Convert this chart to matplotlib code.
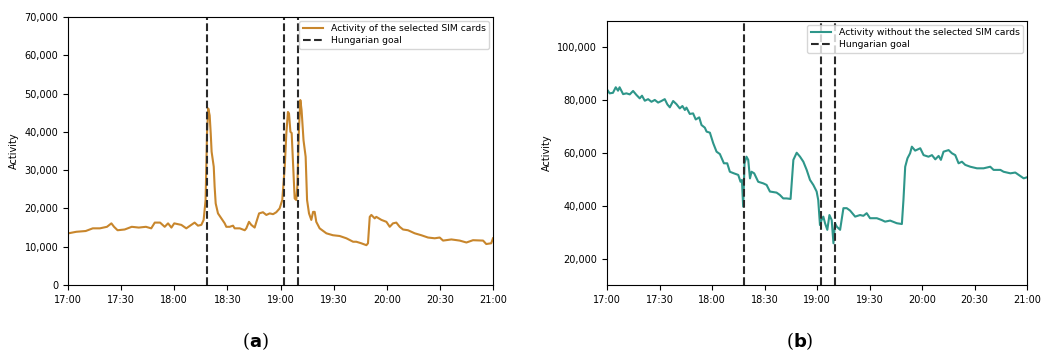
import matplotlib
matplotlib.use("Agg")
import matplotlib.pyplot as plt
import matplotlib.ticker as mticker
import numpy as np
import pandas as pd

# Minutes after 17:00 and activity of the selected SIM cards
sel_minutes = [0, 4.7, 10, 14, 18, 22, 24.5, 26, 28, 32, 36, 40, 44, 47, 49, 52, 54.6, 56.5,
               58.4, 60, 64, 66.8, 69.6, 71.5, 73.4, 75.3, 76.6, 77.7, 78.5, 79.2, 80, 80.6,
               81.1, 82.3, 82.8, 83.4, 84.7, 86.6, 88.5, 89.4, 91.3, 93.2, 94.1, 97, 99.8,
               100.7, 102.2, 103.5, 105.4, 106.4, 107.9, 110.1, 112, 113.9, 115.8, 117.6,
               119.5, 121, 122.4, 123.3, 124.2, 124.8, 125.6, 126.3, 127, 128, 128.9, 129.5,
               130.4, 131.2, 131.9, 133, 134.2, 135, 136.1, 137.4, 138.4, 139.3, 140.2, 142.1,
               145.9, 149.6, 153.4, 157.2, 161, 162.8, 165.6, 168.5, 169.4, 170.4, 171.3,
               173.2, 174.1, 177, 179.8, 181.7, 183.5, 185.4, 187.3, 189.2, 192, 195.8, 199.5,
               203.3, 207.1, 209.9, 211.8, 216.5, 221.2, 225, 228.7, 234.4, 236.2, 239, 240]
sel_activity = [13480, 13900, 14100, 14800, 14800, 15200, 16100, 15200, 14300, 14500, 15200,
                15000, 15200, 14800, 16300, 16300, 15200, 16100, 15000, 16100, 15700, 14800,
                15700, 16300, 15500, 15700, 17000, 22200, 39600, 46100, 44300, 39600, 34800,
                30900, 25700, 21300, 18700, 17400, 16100, 15200, 15200, 15500, 14800, 14800,
                14300, 14800, 16500, 15700, 15000, 16500, 18700, 19000, 18300, 18700, 18500,
                19000, 20000, 22200, 30900, 39600, 45200, 44800, 40000, 39700, 32600, 22600,
                22200, 25700, 40400, 48300, 45700, 37800, 33500, 22200, 18700, 17000, 19100,
                19100, 16500, 14800, 13500, 13000, 12800, 12200, 11300, 11300, 10900, 10400,
                10900, 17800, 18300, 17400, 17800, 17000, 16500, 15200, 16100, 16300, 15200,
                14500, 14300, 13500, 13000, 12400, 12200, 12400, 11600, 11900, 11600, 11100,
                11700, 11600, 10700, 10900, 12200]

# Minutes after 17:00 and activity without the selected SIM cards
rest_minutes = [0, 1.5, 3.4, 5, 6.3, 7.2, 9.2, 11.1, 13, 14.9, 16.8, 18.7, 20, 21.6, 23.5, 25.4,
                27.3, 29.2, 31.1, 33, 34.5, 35.9, 37.8, 39.7, 41.6, 43.1, 44.5, 45.4, 47.3,
                49.2, 50.7, 52.7, 54, 55.9, 56.9, 58.8, 60.7, 62.6, 64.5, 66.8, 68.7, 70.2,
                72.5, 75, 76.3, 77.1, 77.8, 78.6, 79.7, 80.7, 81.7, 82.6, 84.1, 86.4, 89.3,
                91.2, 93.1, 96.9, 98.8, 100.7, 102.6, 104.9, 106.5, 108.4, 110.3, 112.2, 114.1,
                116, 117.9, 119.8, 120.7, 121.7, 122.6, 123.6, 124.6, 125.9, 127.1, 128.4,
                129.4, 130.3, 131.3, 133.2, 135.1, 137, 138.9, 141.8, 144.6, 146.5, 148.4,
                150.3, 154.2, 157, 158.9, 161.8, 165.6, 168.5, 169.4, 170.4, 171.7, 173.2,
                174.2, 176.1, 179, 180.9, 183.7, 185.7, 187.6, 189.5, 190.8, 192.3, 195.2,
                197.1, 199, 200.9, 202.8, 204.7, 207.6, 211.4, 215.2, 219, 220.9, 224.8, 226.6,
                230.5, 233.3, 236.2, 238.1, 240]
rest_activity = [84100, 82600, 82800, 84900, 83600, 84900, 82300, 82600, 82200, 83500, 82000,
                 80700, 81700, 79800, 80400, 79400, 80100, 79100, 79700, 80400, 78400, 77300,
                 79700, 78500, 76900, 77800, 76300, 77200, 74800, 75000, 72700, 73500, 70600,
                 69600, 68100, 67700, 63700, 60500, 59600, 56100, 56100, 52900, 52300, 51700,
                 49100, 49800, 39700, 56100, 58600, 57400, 50400, 52900, 52300, 49100, 48500,
                 47900, 45400, 45000, 44100, 42800, 42800, 42600, 57400, 60100, 58600, 56700,
                 53600, 49800, 47900, 45400, 42200, 32700, 34600, 35900, 33400, 30900, 36500,
                 34600, 25800, 33400, 32100, 30900, 39100, 39100, 38200, 35900, 36500, 36200,
                 37200, 35300, 35300, 34600, 34000, 34400, 33400, 33100, 42200, 54800, 58000,
                 59900, 62400, 60900, 61800, 59200, 58600, 59200, 57600, 58900, 57400, 60500,
                 61100, 59900, 59200, 56100, 56700, 55500, 54800, 54200, 54200, 54800, 53600,
                 53600, 52900, 52300, 52600, 51300, 50400, 50800]

# Hungarian goals, minutes after 17:00
goal_minutes = [78.3, 122.2, 130]

x_tick_labels = ["17:00", "17:30", "18:00", "18:30", "19:00", "19:30", "20:00", "20:30", "21:00"]

start = pd.Timestamp("2021-06-19 17:00")


def to_time(minutes):
    return start + pd.to_timedelta(np.asarray(minutes, dtype=float), unit="m")


plt.rcParams["font.family"] = ["DejaVu Sans"]
plt.rcParams["font.size"] = 7

fig = plt.figure(figsize=(10.61, 3.56), dpi=100)
ax_a = fig.add_axes([68 / 1061, 1 - 285 / 356, 425 / 1061, 268 / 356])
ax_b = fig.add_axes([607 / 1061, 1 - 285 / 356, 420 / 1061, 264 / 356])

panels = [
    (ax_a, sel_minutes, sel_activity, "#c8862c", "Activity of the selected SIM cards", (0, 70000)),
    (ax_b, rest_minutes, rest_activity, "#2e968a", "Activity without the selected SIM cards", (10000, 110000)),
]

for ax, mins, vals, color, label, ylim in panels:
    ax.plot(to_time(mins), vals, color=color, lw=1.5, label=label)
    for i, g in enumerate(goal_minutes):
        ax.axvline(to_time([g])[0], color="#2a2a2a", ls="--", lw=1.5,
                   label="Hungarian goal" if i == 0 else None)
    ax.set_xlim(to_time([0])[0], to_time([240])[0])
    ax.set_ylim(*ylim)
    ax.set_xticks(to_time(np.arange(0, 241, 30)))
    ax.set_xticklabels(x_tick_labels)
    ax.yaxis.set_major_formatter(mticker.FuncFormatter(lambda v, p: f"{int(v):,}"))
    ax.set_ylabel("Activity", fontsize=7)
    ax.tick_params(labelsize=7, length=3.5, width=0.8)
    ax.legend(loc="upper right", fontsize=6.7, framealpha=0.8, borderaxespad=0.4,
              handlelength=2.2, labelspacing=0.3)

ax_a.set_yticks(np.arange(0, 70001, 10000))
ax_b.set_yticks(np.arange(20000, 100001, 20000))

fig.text(255 / 1061, 1 - 341 / 356, r"($\mathbf{a}$)", ha="center", va="center",
         fontsize=13, family="DejaVu Serif")
fig.text(800 / 1061, 1 - 341 / 356, r"($\mathbf{b}$)", ha="center", va="center",
         fontsize=13, family="DejaVu Serif")

fig.savefig("out.png", dpi=100)
